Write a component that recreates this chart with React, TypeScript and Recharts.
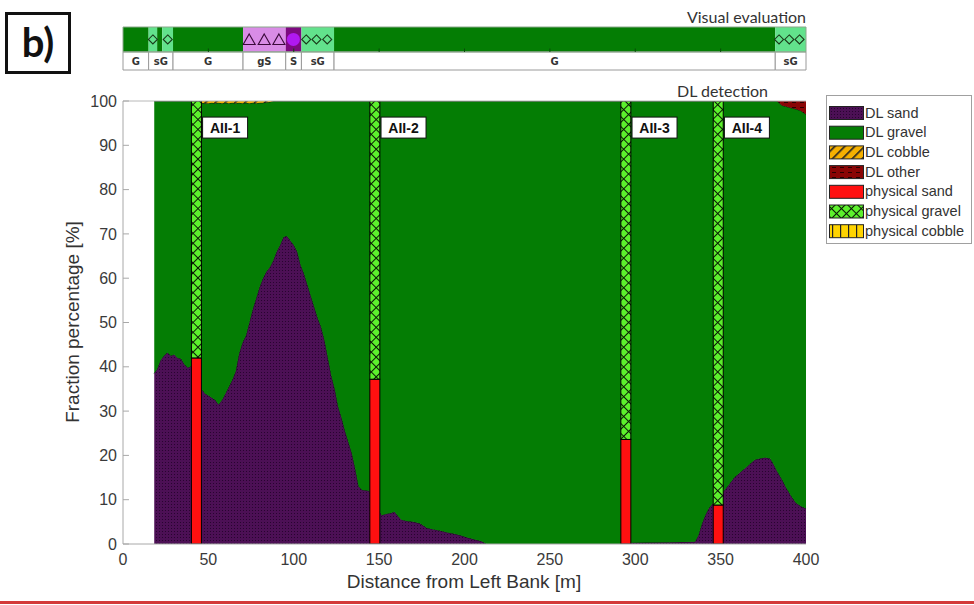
import React from 'react';
import { ComposedChart, Area, Bar, XAxis, YAxis, ReferenceLine, ReferenceDot, ReferenceArea, Scatter } from 'recharts';

// ---- DL detection profile (distance in m, fractions in %) ----
const distanceM = [18.3, 20, 22, 24, 26, 28, 30, 32, 34, 36, 38, 40, 41, 43.1, 46, 48, 50, 52, 54, 56, 58, 60, 62, 64, 66, 68, 70, 72, 74, 76, 78, 80, 82, 84, 86, 88, 90, 92, 94, 96, 98, 100, 102, 104, 106, 108, 110, 112, 114, 116, 118, 120, 122, 124, 126, 128, 130, 132, 134, 136, 138, 140, 144, 147.6, 151.5, 154, 157, 159, 161, 163, 166, 170, 174, 178, 182, 186, 190, 194, 198, 202, 206, 210, 213, 250, 294.6, 298, 320, 335, 337, 339, 341, 343, 345, 348.7, 352, 355, 358, 361, 364, 367, 370, 373, 376, 379, 381, 383, 386, 388, 391, 394, 397, 400];
const dlSand = [38.5, 39.5, 41.5, 42.5, 43.2, 42.5, 42.8, 42.0, 41.8, 40.5, 39.8, 40.2, 40, 38, 35, 34, 33.5, 33, 32.5, 31.5, 32.5, 34, 35.5, 37, 39, 43, 45.5, 47, 50, 53, 55.5, 58, 60, 61.5, 62.5, 64, 66, 67.5, 69.3, 69.5, 68.5, 67.5, 66, 63, 61, 58.5, 56, 53.5, 51, 49, 46, 42, 38, 35, 31, 28.5, 25.5, 23, 20.5, 17, 13, 12.2, 12, 9, 6.5, 6.8, 7.0, 7.3, 6.3, 5.5, 5.2, 5.0, 4.6, 3.6, 3.3, 3.0, 2.6, 2.3, 1.9, 1.4, 1.0, 0.6, 0, 0, 0, 0.3, 0.4, 0.5, 2, 4.5, 6.5, 8, 9, 10, 12, 13.5, 15, 16, 17, 18, 19, 19.3, 19.5, 19.3, 18, 16.5, 14.5, 13, 11, 9.3, 8.5, 8];
const dlCobble = [0, 0, 0, 0, 0, 0, 0, 0, 0, 0, 0, 0, 0, 0.4, 0.4, 0.5, 0.5, 0.4, 0.5, 0.4, 0.5, 0.4, 0.5, 0.4, 0.5, 0.4, 0.5, 0.4, 0.5, 0.4, 0.5, 0.4, 0.4, 0.3, 0.2, 0, 0, 0, 0, 0, 0, 0, 0, 0, 0, 0, 0, 0, 0, 0, 0, 0, 0, 0, 0, 0, 0, 0, 0, 0, 0, 0, 0, 0, 0, 0, 0, 0, 0, 0, 0, 0, 0, 0, 0, 0, 0, 0, 0, 0, 0, 0, 0, 0, 0, 0, 0, 0, 0, 0, 0, 0, 0, 0, 0, 0, 0, 0, 0, 0, 0, 0, 0, 0, 0, 0, 0, 0, 0, 0, 0, 0];
const dlOther = [0, 0, 0, 0, 0, 0, 0, 0, 0, 0, 0, 0, 0, 0, 0, 0, 0, 0, 0, 0, 0, 0, 0, 0, 0, 0, 0, 0, 0, 0, 0, 0, 0, 0, 0, 0, 0, 0, 0, 0, 0, 0, 0, 0, 0, 0, 0, 0, 0, 0, 0, 0, 0, 0, 0, 0, 0, 0, 0, 0, 0, 0, 0, 0, 0, 0, 0, 0, 0, 0, 0, 0, 0, 0, 0, 0, 0, 0, 0, 0, 0, 0, 0, 0, 0, 0, 0, 0, 0, 0, 0, 0, 0, 0, 0, 0, 0, 0, 0, 0, 0, 0, 0, 0, 0, 0, 1.0, 1.2, 1.5, 1.8, 2.2, 3.0];

// ---- physical samples ----
const physX = [43.1, 147.6, 294.6, 348.7];
const physLabels = ['AII-1', 'AII-2', 'AII-3', 'AII-4'];
const physSand = [42, 37.2, 23.6, 8.8];
const physGravel = [58, 62.8, 76.4, 91.2];
const physCobble = [0, 0, 0, 0];

const xTicks = [0, 50, 100, 150, 200, 250, 300, 350, 400];
const yTicks = [0, 10, 20, 30, 40, 50, 60, 70, 80, 90, 100];

// ---- visual evaluation strip ----
const bandStart = [0, 15, 20, 23, 29.3, 70.3, 95.3, 104.5, 123.6, 382];
const bandEnd = [15, 20, 23, 29.3, 70.3, 95.3, 104.5, 123.6, 382, 400];
const bandClass = ['G', 'sG', 'G', 'sG', 'G', 'gS', 'S', 'sG', 'G', 'sG'];
const cellStart = [0, 15, 29.3, 70.3, 95.3, 104.5, 123.6, 382];
const cellEnd = [15, 29.3, 70.3, 95.3, 104.5, 123.6, 382, 400];
const cellLabel = ['G', 'sG', 'G', 'gS', 'S', 'sG', 'G', 'sG'];
const symbolX = [17.5, 26.2, 73.9, 82.7, 91.3, 99.8, 107.3, 113.3, 119.6, 384.2, 390.2, 396.2];
const symbolType = ['diamond', 'diamond', 'triangle', 'triangle', 'triangle', 'circle', 'diamond', 'diamond', 'diamond', 'diamond', 'diamond', 'diamond'];
const stripTicks = [50, 100, 150, 200, 250, 300, 350];

const legendNames = ['DL sand', 'DL gravel', 'DL cobble', 'DL other', 'physical sand', 'physical gravel', 'physical cobble'];
const legendFills = ['url(#sandPat)', '#047d04', 'url(#cobblePat)', 'url(#otherPat)', '#ff1010', 'url(#pGravelPat)', 'url(#pCobblePat)'];

const bandColor: Record<string, string> = { G: '#047d04', sG: '#62e28c', gS: '#d98ce6', S: '#7d0a80' };

const table = distanceM.map((x, i) => {
  const row: any = {
    x,
    sand: dlSand[i],
    gravel: +(100 - dlSand[i] - dlCobble[i] - dlOther[i]).toFixed(2),
    cobble: dlCobble[i],
    other: dlOther[i],
  };
  const j = physX.indexOf(x);
  if (j >= 0) {
    row.pSand = physSand[j];
    row.pGravel = physGravel[j];
    row.pCobble = physCobble[j];
  }
  return row;
});

const symbolData = symbolX.map((x, i) => ({ x, y: 0.71, kind: symbolType[i] }));

const FONT = '"Liberation Sans", Arial, sans-serif';
const TXT = '#3a3a3a';

const SymbolShape = (props: any) => {
  const { cx, cy, payload } = props;
  const k = payload.kind;
  if (k === 'diamond') {
    return <path d={`M${cx},${cy - 4.5} L${cx + 4.5},${cy} L${cx},${cy + 4.5} L${cx - 4.5},${cy} Z`} fill="none" stroke="#1a3a1a" strokeWidth={1.1} />;
  }
  if (k === 'triangle') {
    return <path d={`M${cx},${cy - 5.5} L${cx + 6},${cy + 5} L${cx - 6},${cy + 5} Z`} fill="none" stroke="#3a0a3a" strokeWidth={1.1} />;
  }
  return <circle cx={cx} cy={cy} r={6.5} fill="#b019f0" />;
};

const makeBarShape = (fill: string) => (props: any) => {
  const { x, y, width, height } = props;
  if (!height || height <= 0) return <g />;
  const c = x + width / 2;
  return <rect x={c - 5} y={y} width={10} height={height} fill={fill} stroke="#000" strokeWidth={1} />;
};

const makeLabelShape = (text: string) => (props: any) => {
  const { cx, cy } = props;
  return (
    <g>
      <rect x={cx + 6} y={cy - 10.5} width={45} height={21} fill="#fff" stroke="#111" strokeWidth={1} />
      <text x={cx + 28.5} y={cy + 5} textAnchor="middle" fontFamily={FONT} fontWeight={700} fontSize={14} fill="#111">{text}</text>
    </g>
  );
};

export default function App() {
  return (
    <div style={{ position: 'absolute', left: 0, top: 0, width: 974, height: 605, background: '#fff', overflow: 'hidden' }}>
      <svg width={0} height={0} style={{ position: 'absolute' }}>
        <defs>
          <pattern id="sandPat" width={3} height={3} patternUnits="userSpaceOnUse">
            <rect width={3} height={3} fill="#4c1055" />
            <rect width={1} height={1} fill="#280430" />
          </pattern>
          <pattern id="cobblePat" width={7} height={7} patternUnits="userSpaceOnUse" patternTransform="rotate(45)">
            <rect width={7} height={7} fill="#f5b000" />
            <rect width={1.6} height={7} fill="#222" />
          </pattern>
          <pattern id="otherPat" width={8} height={5} patternUnits="userSpaceOnUse">
            <rect width={8} height={5} fill="#8a0505" />
            <rect x={0} y={2} width={4} height={1} fill="#2a0000" />
          </pattern>
          <pattern id="pGravelPat" width={7} height={7} patternUnits="userSpaceOnUse" patternTransform="rotate(45)">
            <rect width={7} height={7} fill="#5cf02c" />
            <rect width={7} height={1} fill="#0a1a05" />
            <rect width={1} height={7} fill="#0a1a05" />
          </pattern>
          <pattern id="pCobblePat" width={8} height={8} patternUnits="userSpaceOnUse">
            <rect width={8} height={8} fill="#ffd400" />
            <rect x={0} width={1.2} height={8} fill="#222" />
          </pattern>
        </defs>
      </svg>

      {/* visual evaluation strip */}
      <div style={{ position: 'absolute', left: 0, top: 0 }}>
        <ComposedChart width={974} height={75} data={[]} margin={{ top: 27, right: 168, bottom: 5, left: 123 }}>
          <XAxis type="number" dataKey="x" domain={[0, 400]} hide />
          <YAxis type="number" dataKey="y" domain={[0, 1]} hide />
          {bandStart.map((s, i) => (
            <ReferenceArea key={'b' + i} x1={s} x2={bandEnd[i]} y1={0.42} y2={1} fill={bandColor[bandClass[i]]} fillOpacity={1} stroke="none" />
          ))}
          {cellStart.map((s, i) => (
            <ReferenceArea key={'c' + i} x1={s} x2={cellEnd[i]} y1={0} y2={0.42} fill="#fff" fillOpacity={1} stroke="#9a9a9a" strokeWidth={1}
              label={{ value: cellLabel[i], position: 'center', fill: '#333', fontSize: 10, fontWeight: 700, fontFamily: '"DejaVu Sans", sans-serif' }} />
          ))}
          <ReferenceArea x1={0} x2={400} y1={0.42} y2={1} fill="none" stroke="#8aa88a" strokeWidth={1} />
          {stripTicks.map((t) => (
            <ReferenceLine key={'t' + t} segment={[{ x: t, y: 0.42 }, { x: t, y: 0.5 }]} stroke="#0a4a0a" strokeWidth={1} />
          ))}
          <Scatter data={symbolData} dataKey="y" shape={SymbolShape} isAnimationActive={false} />
        </ComposedChart>
      </div>

      {/* main chart */}
      <div style={{ position: 'absolute', left: 0, top: 0 }}>
        <ComposedChart width={974} height={605} data={table} margin={{ top: 101, right: 168, bottom: 31, left: 63 }}>
          <XAxis type="number" dataKey="x" domain={[0, 400]} ticks={xTicks} height={30} tickSize={0} tickMargin={10}
            axisLine={{ stroke: '#a8a8a8' }} tickLine={false}
            tick={{ fill: TXT, fontSize: 16, fontFamily: FONT }} allowDataOverflow />
          <YAxis type="number" domain={[0, 100]} ticks={yTicks} width={60} tickSize={0} tickMargin={6}
            axisLine={{ stroke: '#a8a8a8' }} tickLine={false}
            tick={{ fill: TXT, fontSize: 16, fontFamily: FONT }} allowDataOverflow />
          <ReferenceLine y={100} stroke="#b8b8b8" />
          {yTicks.map((v) => (
            <ReferenceLine key={'yt' + v} segment={[{ x: 0, y: v }, { x: 3.5, y: v }]} stroke="#a8a8a8" />
          ))}
          <Area type="linear" dataKey="sand" stackId="dl" fill="url(#sandPat)" fillOpacity={1} stroke="#1c0322" strokeWidth={1} isAnimationActive={false} dot={false} activeDot={false} />
          <Area type="linear" dataKey="gravel" stackId="dl" fill="#047d04" fillOpacity={1} stroke="#0a1a0a" strokeWidth={1} isAnimationActive={false} dot={false} activeDot={false} />
          <Area type="linear" dataKey="cobble" stackId="dl" fill="url(#cobblePat)" fillOpacity={1} stroke="none" isAnimationActive={false} dot={false} activeDot={false} />
          <Area type="linear" dataKey="other" stackId="dl" fill="url(#otherPat)" fillOpacity={1} stroke="none" isAnimationActive={false} dot={false} activeDot={false} />
          <Bar dataKey="pSand" stackId="p" fill="#ff1010" shape={makeBarShape('#ff1010')} isAnimationActive={false} />
          <Bar dataKey="pGravel" stackId="p" fill="url(#pGravelPat)" shape={makeBarShape('url(#pGravelPat)')} isAnimationActive={false} />
          <Bar dataKey="pCobble" stackId="p" fill="url(#pCobblePat)" shape={makeBarShape('url(#pCobblePat)')} isAnimationActive={false} />
          {physX.map((x, i) => (
            <ReferenceDot key={'l' + i} x={x} y={94} r={1} shape={makeLabelShape(physLabels[i])} ifOverflow="visible" />
          ))}
        </ComposedChart>
      </div>

      {/* titles, legend and panel decorations */}
      <svg width={974} height={605} style={{ position: 'absolute', left: 0, top: 0, pointerEvents: 'none' }}>
        <text x={806} y={23} textAnchor="end" fontFamily="Lato, sans-serif" fontSize={16} fill="#333">Visual evaluation</text>
        <text x={768} y={97} textAnchor="end" fontFamily="Lato, sans-serif" fontSize={16} fill="#333">DL detection</text>
        <text x={72} y={322} transform="rotate(-90 72 322)" textAnchor="middle" dominantBaseline="central" fontFamily={FONT} fontSize={19} fill="#333">Fraction percentage [%]</text>
        <text x={464} y={581} textAnchor="middle" dominantBaseline="central" fontFamily={FONT} fontSize={19} fill="#333">Distance from Left Bank [m]</text>
        <rect x={6.5} y={13.5} width={63} height={59} fill="#fff" stroke="#111" strokeWidth={3} />
        <text x={38} y={57} textAnchor="middle" fontFamily="Lato, sans-serif" fontWeight={700} fontSize={40} fill="#111">b)</text>
        <rect x={826.5} y={95.5} width={145} height={148} fill="#fff" stroke="#a0a0a0" strokeWidth={1} />
        {legendNames.map((n, i) => {
          const cy = 113 + i * 19.7;
          return (
            <g key={n}>
              <rect x={829.5} y={cy - 6.5} width={34} height={13} fill={legendFills[i]} stroke="#222" strokeWidth={1} />
              <text x={865} y={cy + 4.5} fontFamily={FONT} fontSize={14.5} fill="#333">{n}</text>
            </g>
          );
        })}
        <rect x={0} y={601} width={974} height={3} fill="#d33a3a" />
      </svg>
    </div>
  );
}
